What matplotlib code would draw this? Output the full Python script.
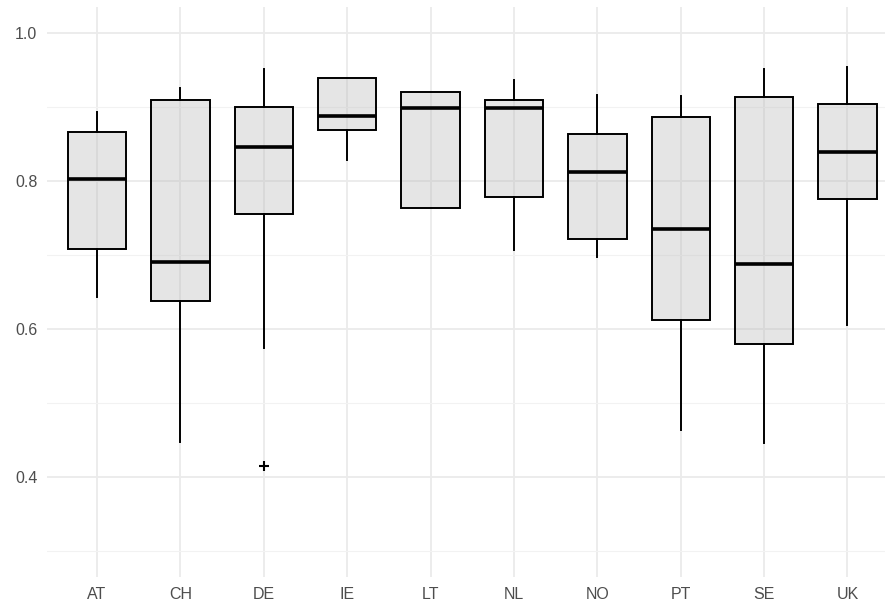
import matplotlib.pyplot as plt
from matplotlib.ticker import MultipleLocator

# valores
countries = ["AT", "CH", "DE", "IE", "LT", "NL", "NO", "PT", "SE", "UK"]
whis_low = [0.643, 0.448, 0.574, 0.828, 0.764, 0.707, 0.697, 0.464, 0.446, 0.605]
q1 = [0.708, 0.638, 0.756, 0.869, 0.764, 0.779, 0.722, 0.612, 0.580, 0.776]
median = [0.802, 0.690, 0.846, 0.888, 0.898, 0.898, 0.812, 0.735, 0.688, 0.839]
q3 = [0.866, 0.910, 0.900, 0.939, 0.920, 0.909, 0.864, 0.886, 0.914, 0.904]
whis_high = [0.893, 0.926, 0.951, 0.939, 0.920, 0.937, 0.916, 0.915, 0.951, 0.954]
outliers = {"DE": [0.415]}

y_ticks = [0.4, 0.6, 0.8, 1.0]

plt.rcParams['font.family'] = ['Liberation Sans', 'DejaVu Sans']

stats = []
for i, c in enumerate(countries):
    stats.append({
        'label': c,
        'whislo': whis_low[i],
        'q1': q1[i],
        'med': median[i],
        'q3': q3[i],
        'whishi': whis_high[i],
        'fliers': outliers.get(c, []),
    })

fig = plt.figure(figsize=(8.85, 6.07), dpi=100)
ax = fig.add_axes([47 / 885, 30 / 607, 1 - 47 / 885, 570 / 607])

positions = list(range(1, len(countries) + 1))
ax.bxp(stats, positions=positions, widths=0.7, patch_artist=True,
       showcaps=False,
       boxprops=dict(facecolor=(0.745, 0.745, 0.745, 0.4), edgecolor='black', linewidth=1.4),
       medianprops=dict(color='black', linewidth=2.6, solid_capstyle='butt'),
       whiskerprops=dict(color='black', linewidth=1.4),
       flierprops=dict(marker='+', markersize=7, markeredgecolor='black', markeredgewidth=1.5),
       zorder=3)

# ejes y rejilla estilo theme_minimal
ax.set_xlim(0.4, 10.45)
ax.set_ylim(0.265, 1.035)
ax.set_xticks(positions)
ax.set_xticklabels(countries)
ax.set_yticks(y_ticks)
ax.set_yticklabels([f"{v:.1f}" for v in y_ticks])
ax.yaxis.set_minor_locator(MultipleLocator(0.1))

ax.set_axisbelow(True)
ax.grid(True, which='major', color='#ebebeb', linewidth=1.3)
ax.grid(True, which='minor', axis='y', color='#f2f2f2', linewidth=0.8)
for s in ax.spines.values():
    s.set_visible(False)
ax.tick_params(which='both', length=0)
ax.tick_params(axis='both', labelsize=11.5, labelcolor='#4d4d4d')
ax.tick_params(axis='x', pad=7)
ax.tick_params(axis='y', pad=7)

fig.savefig("out.png", dpi=100, facecolor='white')
